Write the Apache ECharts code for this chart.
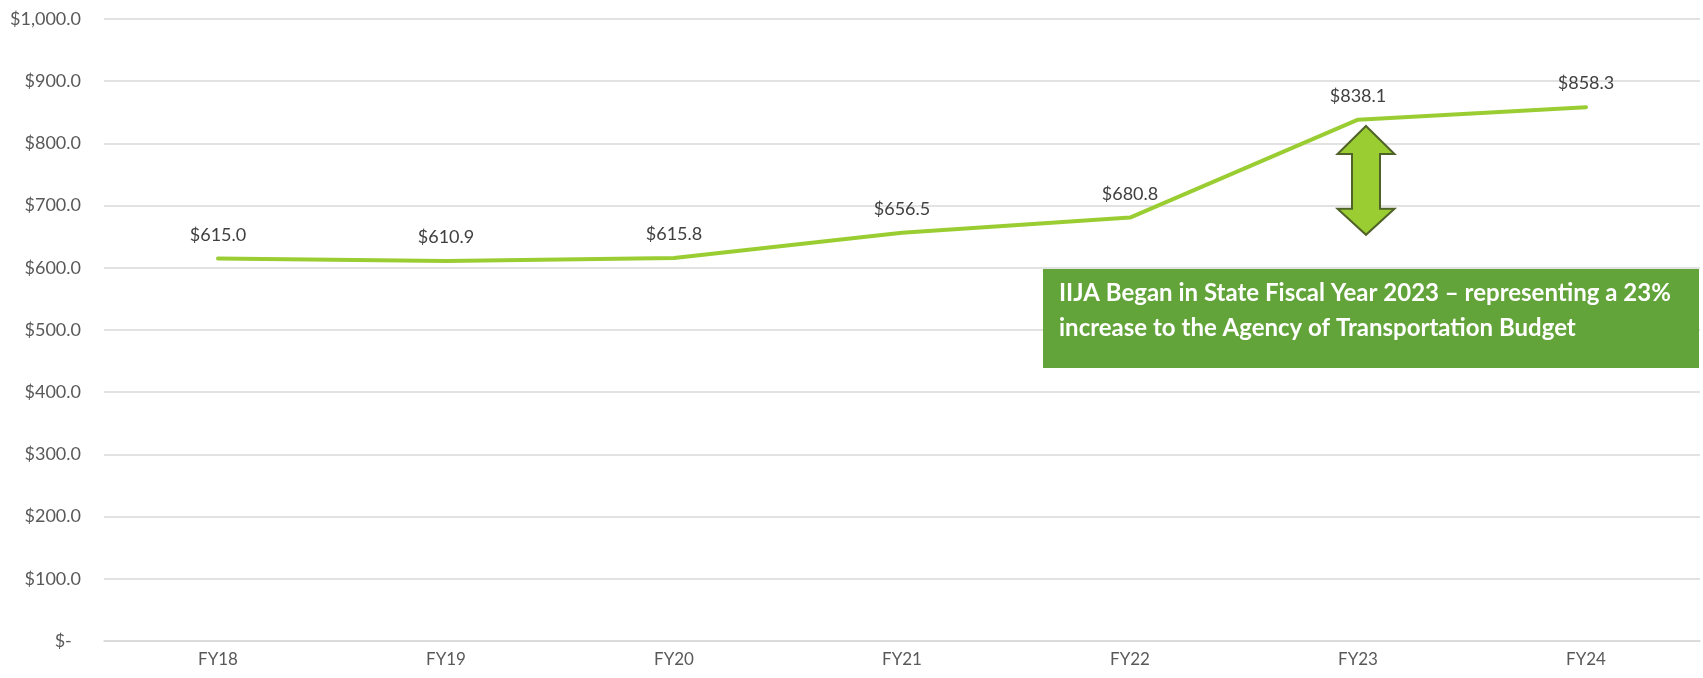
<!DOCTYPE html>
<html>
<head>
<meta charset="utf-8">
<script src="https://cdn.jsdelivr.net/npm/echarts@6/dist/echarts.min.js"></script>
<style>
  html, body { margin: 0; padding: 0; background: #fff; }
  #myChart { width: 1703px; height: 678px; }
</style>
</head>
<body>
<div id="myChart"></div>
<script>
// data
const years = ['FY18', 'FY19', 'FY20', 'FY21', 'FY22', 'FY23', 'FY24']
const budget = [615.0, 610.9, 615.8, 656.5, 680.8, 838.1, 858.3]
const yTicks = [0, 100, 200, 300, 400, 500, 600, 700, 800, 900, 1000]
const noteLines = [
  'IIJA Began in State Fiscal Year 2023 – representing a 23%',
  'increase to the Agency of Transportation Budget'
]
// arrow spans these values at FY23
const arrowSpan = [828, 653]

const font = 'Lato, "Open Sans", sans-serif'

function money(v) {
  if (v === 0) return '$-  '
  return '$' + v.toLocaleString('en-US', { minimumFractionDigits: 1, maximumFractionDigits: 1 })
}

const myChart = echarts.init(document.getElementById('myChart'))
const option = {
  animation: false,
  grid: { left: 104, right: 3, top: 19, bottom: 37 },
  xAxis: {
    type: 'category',
    data: years,
    boundaryGap: true,
    axisLine: { lineStyle: { color: '#d9d9d9', width: 1.5 } },
    axisTick: { show: false },
    axisLabel: { color: '#595959', fontSize: 17, fontFamily: font, margin: 10 }
  },
  yAxis: {
    type: 'value',
    min: yTicks[0],
    max: yTicks[yTicks.length - 1],
    interval: 100,
    axisLine: { show: false },
    axisTick: { show: false },
    splitLine: { lineStyle: { color: '#d9d9d9', width: 1.5 } },
    axisLabel: { color: '#595959', fontSize: 18, fontFamily: font, margin: 23, formatter: money }
  },
  series: [{
    type: 'line',
    data: budget,
    symbol: 'circle',
    symbolSize: 1,
    itemStyle: { color: '#9acd32' },
    lineStyle: { color: '#9acd32', width: 4, cap: 'round', join: 'round' },
    label: {
      show: true,
      position: 'top',
      distance: 14,
      color: '#404040',
      fontSize: 18,
      fontFamily: font,
      formatter: p => money(p.value)
    }
  }]
}
myChart.setOption(option)

// annotation: double arrow at FY23 + note box
const pTop = myChart.convertToPixel({ xAxisIndex: 0, yAxisIndex: 0 }, ['FY23', arrowSpan[0]])
const pBot = myChart.convertToPixel({ xAxisIndex: 0, yAxisIndex: 0 }, ['FY23', arrowSpan[1]])
const cx = pTop[0] + 8
const ty = pTop[1]
const by = pBot[1]
const hw = 28.5, sw = 14, hh = 28
myChart.setOption({
  graphic: [
    {
      type: 'polygon',
      shape: {
        points: [
          [cx, ty], [cx + hw, ty + hh], [cx + sw, ty + hh], [cx + sw, by - hh + 2],
          [cx + hw, by - hh + 2], [cx, by], [cx - hw, by - hh + 2], [cx - sw, by - hh + 2],
          [cx - sw, ty + hh], [cx - hw, ty + hh]
        ]
      },
      style: { fill: '#9acd32', stroke: '#4f6228', lineWidth: 2 },
      z: 10
    },
    {
      type: 'rect',
      right: 4,
      top: 269,
      shape: { width: 656, height: 99 },
      style: { fill: '#63a43a' },
      z: 10
    },
    {
      type: 'text',
      left: 1059,
      top: 276,
      style: {
        text: noteLines.join('\n'),
        fill: '#fff',
        fontSize: 24,
        fontWeight: 'bold',
        fontFamily: font,
        lineHeight: 35
      },
      z: 11
    }
  ]
})
</script>
</body>
</html>
